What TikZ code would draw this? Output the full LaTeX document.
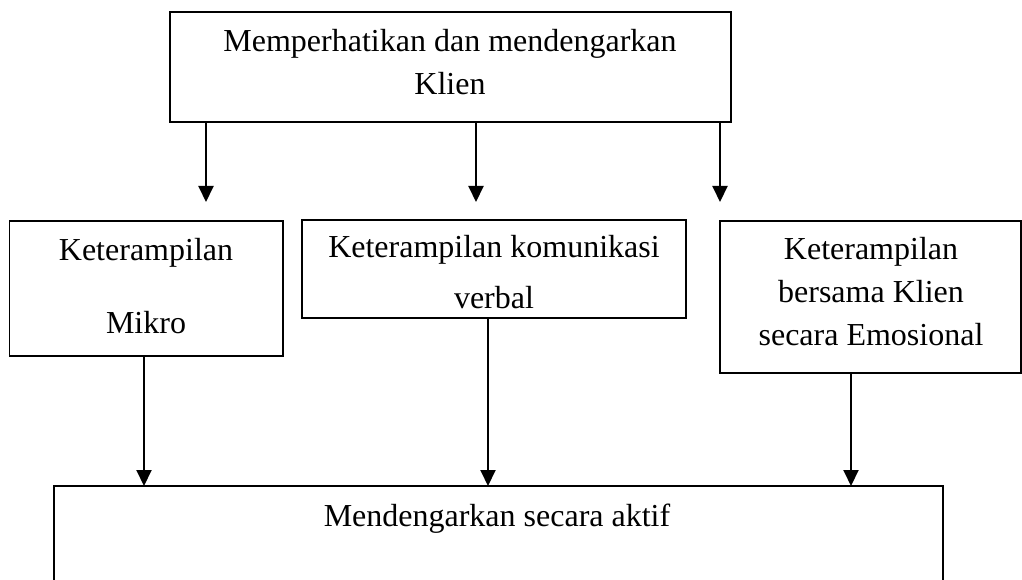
\documentclass[tikz,border=0pt]{standalone}
\usepackage{fontspec}
\setmainfont{Liberation Serif}
\usetikzlibrary{arrows.meta}
\tikzset{
  box/.style={draw=black, line width=1.5pt, fill=white, rectangle, inner sep=0pt, outer sep=0pt, anchor=north west},
  txt/.style={anchor=base, inner sep=0pt, font=\fontsize{32}{38}\selectfont},
  arr/.style={line width=2pt, -{Triangle[width=15pt,length=16pt]}}
}
\begin{document}
\begin{tikzpicture}[x=1pt,y=-1pt]
\useasboundingbox[fill=white] (0,0) rectangle (1022,580);
% boxes
\node[box, minimum width=561pt, minimum height=110pt] (top) at (170,12) {};
\node[box, minimum width=273.5pt, minimum height=135pt] (mikro) at (9.5,221) {};
\node[box, minimum width=384pt, minimum height=98pt] (verbal) at (302,220) {};
\node[box, minimum width=301pt, minimum height=152pt] (emosi) at (720,221) {};
\node[box, minimum width=889pt, minimum height=150pt] (aktif) at (54,486) {};
% texts
\node[txt] (t1) at (450,51.7) {Memperhatikan dan mendengarkan};
\node[txt] (t2) at (450,95) {Klien};
\node[txt] (m1) at (146,260) {Keterampilan};
\node[txt] (m2) at (146,333) {Mikro};
\node[txt] (v1) at (494,257) {Keterampilan komunikasi};
\node[txt] (v2) at (494,308) {verbal};
\node[txt] (e1) at (871,259) {Keterampilan};
\node[txt] (e2) at (871,302) {bersama Klien};
\node[txt] (e3) at (871,345) {secara Emosional};
\node[txt] (a1t) at (497,526) {Mendengarkan secara aktif};
% arrow end points
\coordinate (a1) at (206,202);
\coordinate (a2) at (476,202);
\coordinate (a3) at (720,202);
\coordinate (b1) at (144,486);
\coordinate (b2) at (488,486);
\coordinate (b3) at (851,486);
% connectors
\draw[arr] (top.south -| a1) -- (a1);
\draw[arr] (top.south -| a2) -- (a2);
\draw[arr] (top.south -| a3) -- (a3);
\draw[arr] (mikro.south -| b1) -- (aktif.north -| b1);
\draw[arr] (verbal.south -| b2) -- (aktif.north -| b2);
\draw[arr] (emosi.south -| b3) -- (aktif.north -| b3);
\end{tikzpicture}
\end{document}
